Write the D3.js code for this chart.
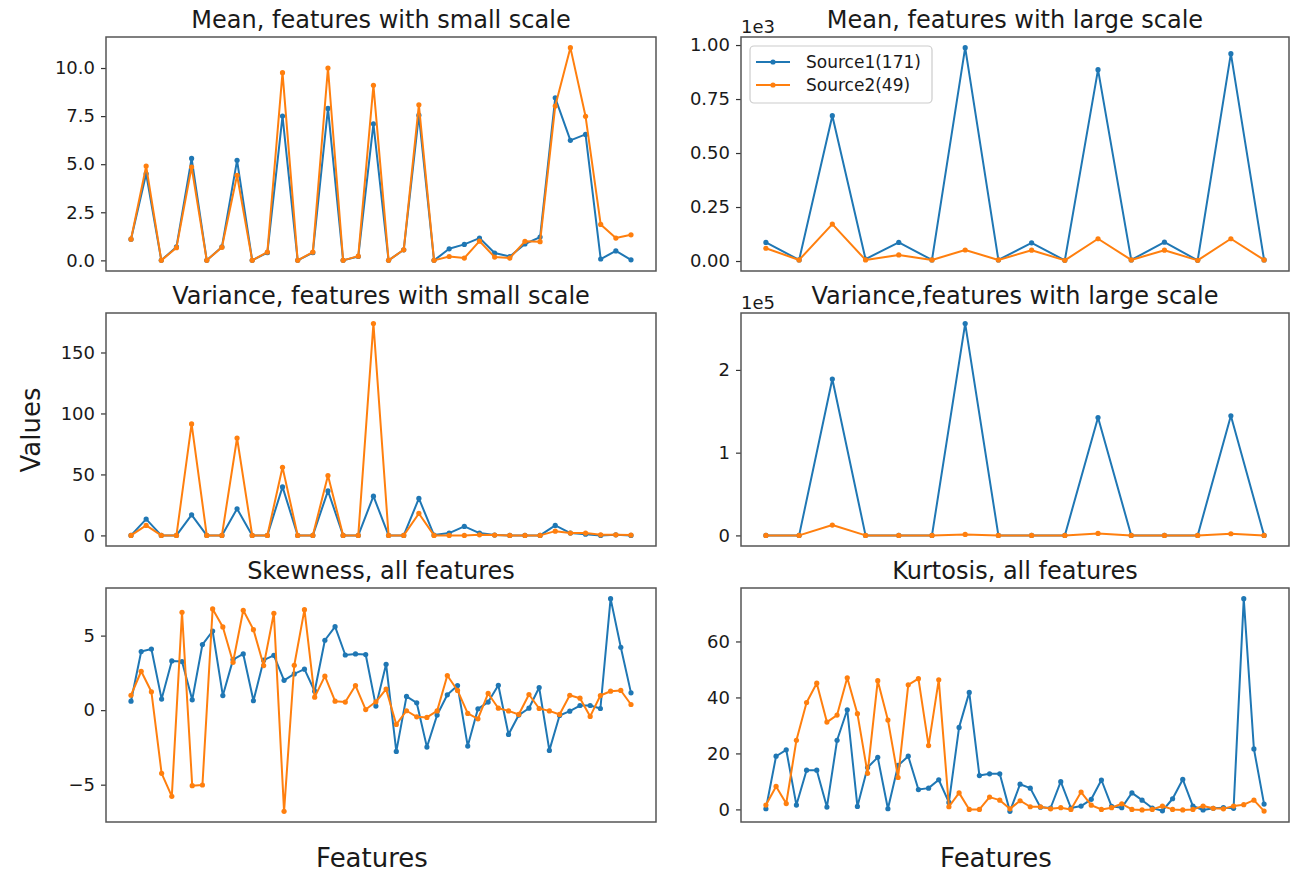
<!DOCTYPE html>
<html>
<head>
<meta charset="utf-8">
<script src="https://cdn.jsdelivr.net/npm/d3@7"></script>
<style>
  html, body { margin: 0; padding: 0; background: #fff; }
  svg { display: block; font-family: "DejaVu Sans", sans-serif; }
</style>
</head>
<body>
<svg id="chart" width="1300" height="872"></svg>
<script>
"use strict";

// values, one entry per feature
const seriesNames = ["Source1(171)", "Source2(49)"];

const meanSmallS1 = [1.1, 4.5, 0.0, 0.7, 5.3, 0.0, 0.7, 5.2, 0.0, 0.4, 7.5, 0.0, 0.4, 7.9, 0.0, 0.2, 7.1, 0.0, 0.55, 7.55, 0.0, 0.6, 0.83, 1.16, 0.38, 0.2, 0.85, 1.21, 8.45, 6.24, 6.55, 0.07, 0.49, 0.03];
const meanSmallS2 = [1.1, 4.9, 0.0, 0.66, 4.85, 0.0, 0.68, 4.42, 0.0, 0.43, 9.76, 0.0, 0.43, 10.0, 0.0, 0.22, 9.1, 0.0, 0.55, 8.09, 0.0, 0.2, 0.12, 1.0, 0.17, 0.12, 0.99, 0.97, 8.02, 11.06, 7.49, 1.87, 1.16, 1.33];

const meanLargeS1 = [86, 5, 673, 9, 86, 5, 988, 5, 84, 3, 886, 5, 87, 3, 960, 5];
const meanLargeS2 = [59, 5, 171, 5, 28, 5, 51, 5, 50, 3, 103, 5, 50, 3, 103, 5];

const varSmallS1 = [0, 13.4, 0, 0, 16.9, 0, 0, 21.8, 0, 0, 39.8, 0, 0, 36.5, 0, 0, 32.2, 0, 0, 30.3, 0.3, 1.9, 7.4, 1.9, 0.3, 0, 0, 0, 8.2, 1.9, 1.0, 0, 0.5, 0];
const varSmallS2 = [0, 8.2, 0, 0, 91.4, 0, 0, 79.9, 0, 0, 55.9, 0, 0, 49.1, 0, 0, 173.7, 0, 0, 18.0, 0, 0, 0, 0.5, 0.3, 0, 0, 0, 3.5, 1.9, 1.9, 0.5, 0.5, 0.3];

const varLargeS1 = [0, 0, 189000, 0, 0, 0, 256000, 0, 0, 0, 142500, 0, 0, 0, 144500, 0];
const varLargeS2 = [0, 0, 12500, 0, 0, 0, 1200, 0, 0, 0, 2400, 0, 0, 0, 2000, 0];

const skewS1 = [0.6, 3.93, 4.1, 0.74, 3.3, 3.26, 0.69, 4.4, 5.31, 0.98, 3.39, 3.77, 0.63, 3.35, 3.68, 2.0, 2.43, 2.75, 1.27, 4.69, 5.6, 3.7, 3.77, 3.73, 0.27, 3.08, -2.77, 0.92, 0.49, -2.48, -0.33, 1.03, 1.65, -2.41, 0.09, 0.54, 1.67, -1.63, -0.33, 0.13, 1.52, -2.7, -0.36, -0.07, 0.31, 0.31, 0.11, 7.48, 4.22, 1.16];
const skewS2 = [1.0, 2.61, 1.23, -4.24, -5.78, 6.56, -5.07, -5.02, 6.79, 5.58, 3.21, 6.7, 5.4, 2.99, 6.5, -6.79, 3.01, 6.74, 0.87, 2.28, 0.6, 0.54, 1.65, 0.04, 0.56, 1.41, -0.96, -0.04, -0.45, -0.49, -0.05, 2.32, 1.32, -0.22, -0.58, 1.12, 0.13, -0.05, -0.29, 1.05, 0.11, -0.05, -0.29, 1.0, 0.8, -0.42, 0.98, 1.27, 1.32, 0.38];

const kurtS1 = [0.24, 19.0, 21.3, 1.54, 14.0, 14.0, 0.83, 24.7, 35.6, 1.07, 15.0, 18.6, 0.24, 15.7, 19.0, 7.1, 7.6, 10.6, 2.5, 29.3, 41.8, 12.1, 12.7, 12.7, -0.7, 9.0, 7.6, 0.8, 0.5, 9.9, 0.5, 1.2, 3.6, 10.5, 1.1, 0.6, 5.9, 3.3, 0.5, -0.5, 3.8, 10.7, 1.2, -0.2, 0.4, 0.6, 0.4, 75.3, 21.6, 1.9];
const kurtS2 = [1.54, 8.2, 2.1, 24.7, 38.2, 45.1, 31.2, 33.7, 47.0, 34.2, 12.9, 46.0, 31.9, 11.4, 44.5, 46.7, 22.8, 46.3, 0.95, 5.9, 0.0, 0.0, 4.4, 3.3, 0.2, 3.1, 0.95, 0.95, 0.2, 0.6, 0.0, 6.2, 1.5, 0.0, 0.6, 2.0, 0.0, -0.2, 0.0, 1.2, 0.0, -0.2, 0.0, 1.2, 0.4, 0.2, 1.2, 1.7, 3.3, -0.6];

// y tick values for each panel
const meanSmallTicks = [0, 2.5, 5, 7.5, 10];
const meanLargeTicks = [0, 250, 500, 750, 1000];
const varSmallTicks = [0, 50, 100, 150];
const varLargeTicks = [0, 100000, 200000];
const skewTicks = [-5, 0, 5];
const kurtTicks = [0, 20, 40, 60];

(function () {
  const svg = d3.select("#chart");
  const COLORS = ["#1f77b4", "#ff7f0e"];
  const TEXT = "#1a1a1a";

  const colX = [[106, 656], [741, 1289]];
  const rowY = [[37, 271], [313, 546], [588, 822]];

  const minus = (s) => s.replace("-", "\u2212");

  const panels = [
    { title: "Mean, features with small scale", col: 0, row: 0, series: [meanSmallS1, meanSmallS2], ticks: meanSmallTicks, fmt: (d) => d3.format(".1f")(d) },
    { title: "Mean, features with large scale", col: 1, row: 0, series: [meanLargeS1, meanLargeS2], ticks: meanLargeTicks, fmt: (d) => d3.format(".2f")(d / 1e3), offset: "1e3", legend: true },
    { title: "Variance, features with small scale", col: 0, row: 1, series: [varSmallS1, varSmallS2], ticks: varSmallTicks, fmt: (d) => d3.format("d")(d) },
    { title: "Variance,features with large scale", col: 1, row: 1, series: [varLargeS1, varLargeS2], ticks: varLargeTicks, fmt: (d) => d3.format("d")(d / 1e5), offset: "1e5" },
    { title: "Skewness, all features", col: 0, row: 2, series: [skewS1, skewS2], ticks: skewTicks, fmt: (d) => minus(d3.format("d")(d)) },
    { title: "Kurtosis, all features", col: 1, row: 2, series: [kurtS1, kurtS2], ticks: kurtTicks, fmt: (d) => d3.format("d")(d) },
  ];

  function padded(lo, hi) {
    const m = (hi - lo) * 0.05;
    return [lo - m, hi + m];
  }

  function drawPanel(p) {
    const [x0, x1] = colX[p.col];
    const [y0, y1] = rowY[p.row];
    const n = p.series[0].length;
    const all = p.series.flat();

    const x = d3.scaleLinear().domain(padded(0, n - 1)).range([x0, x1]);
    const y = d3.scaleLinear().domain(padded(d3.min(all), d3.max(all))).range([y1, y0]);

    const g = svg.append("g").attr("class", "panel");

    const line = d3.line().x((d, i) => x(i)).y((d) => y(d));

    p.series.forEach((vals, si) => {
      const sg = g.append("g").attr("class", "series");
      sg.append("path")
        .attr("d", line(vals))
        .attr("fill", "none")
        .attr("stroke", COLORS[si])
        .attr("stroke-width", 2)
        .attr("stroke-linejoin", "round");
      sg.selectAll("circle").data(vals).enter().append("circle")
        .attr("cx", (d, i) => x(i))
        .attr("cy", (d) => y(d))
        .attr("r", 2.6)
        .attr("fill", COLORS[si]);
    });

    const axis = d3.axisLeft(y).tickValues(p.ticks).tickFormat(p.fmt).tickSize(5).tickPadding(6);
    const ag = g.append("g").attr("transform", `translate(${x0},0)`).call(axis);
    ag.select(".domain").remove();
    ag.selectAll(".tick line").attr("stroke", "#333").attr("stroke-width", 1.2);
    ag.selectAll(".tick text")
      .attr("fill", TEXT)
      .style("font-size", "18px")
      .style("font-family", "DejaVu Sans, sans-serif");

    g.append("rect")
      .attr("x", x0).attr("y", y0)
      .attr("width", x1 - x0).attr("height", y1 - y0)
      .attr("fill", "none")
      .attr("stroke", "#555")
      .attr("stroke-width", 1.5);

    g.append("text")
      .attr("x", (x0 + x1) / 2)
      .attr("y", y0 - 9)
      .attr("text-anchor", "middle")
      .attr("fill", TEXT)
      .style("font-size", "24px")
      .text(p.title);

    if (p.offset) {
      g.append("text")
        .attr("x", x0)
        .attr("y", y0 - 4)
        .attr("fill", TEXT)
        .style("font-size", "18px")
        .text(p.offset);
    }

    if (p.legend) drawLegend(x0 + 9, y0 + 9);
  }

  function drawLegend(lx, ly) {
    const lg = svg.append("g").attr("class", "legend");
    lg.append("rect")
      .attr("x", lx).attr("y", ly)
      .attr("width", 182).attr("height", 57)
      .attr("rx", 4)
      .attr("fill", "#fff").attr("fill-opacity", 0.8)
      .attr("stroke", "#ccc").attr("stroke-width", 1.2);
    seriesNames.forEach((name, i) => {
      const cy = ly + 16 + i * 23;
      lg.append("line")
        .attr("x1", lx + 6).attr("x2", lx + 40)
        .attr("y1", cy).attr("y2", cy)
        .attr("stroke", COLORS[i]).attr("stroke-width", 2);
      lg.append("circle")
        .attr("cx", lx + 23).attr("cy", cy).attr("r", 2.6)
        .attr("fill", COLORS[i]);
      lg.append("text")
        .attr("x", lx + 56).attr("y", cy + 6)
        .attr("fill", TEXT)
        .style("font-size", "17px")
        .text(name);
    });
  }

  panels.forEach(drawPanel);

  svg.append("text")
    .attr("transform", "translate(40,430) rotate(-90)")
    .attr("text-anchor", "middle")
    .attr("fill", TEXT)
    .style("font-size", "26px")
    .text("Values");

  [372, 996].forEach((cx) => {
    svg.append("text")
      .attr("x", cx).attr("y", 867)
      .attr("text-anchor", "middle")
      .attr("fill", TEXT)
      .style("font-size", "26px")
      .text("Features");
  });
})();
</script>
</body>
</html>
